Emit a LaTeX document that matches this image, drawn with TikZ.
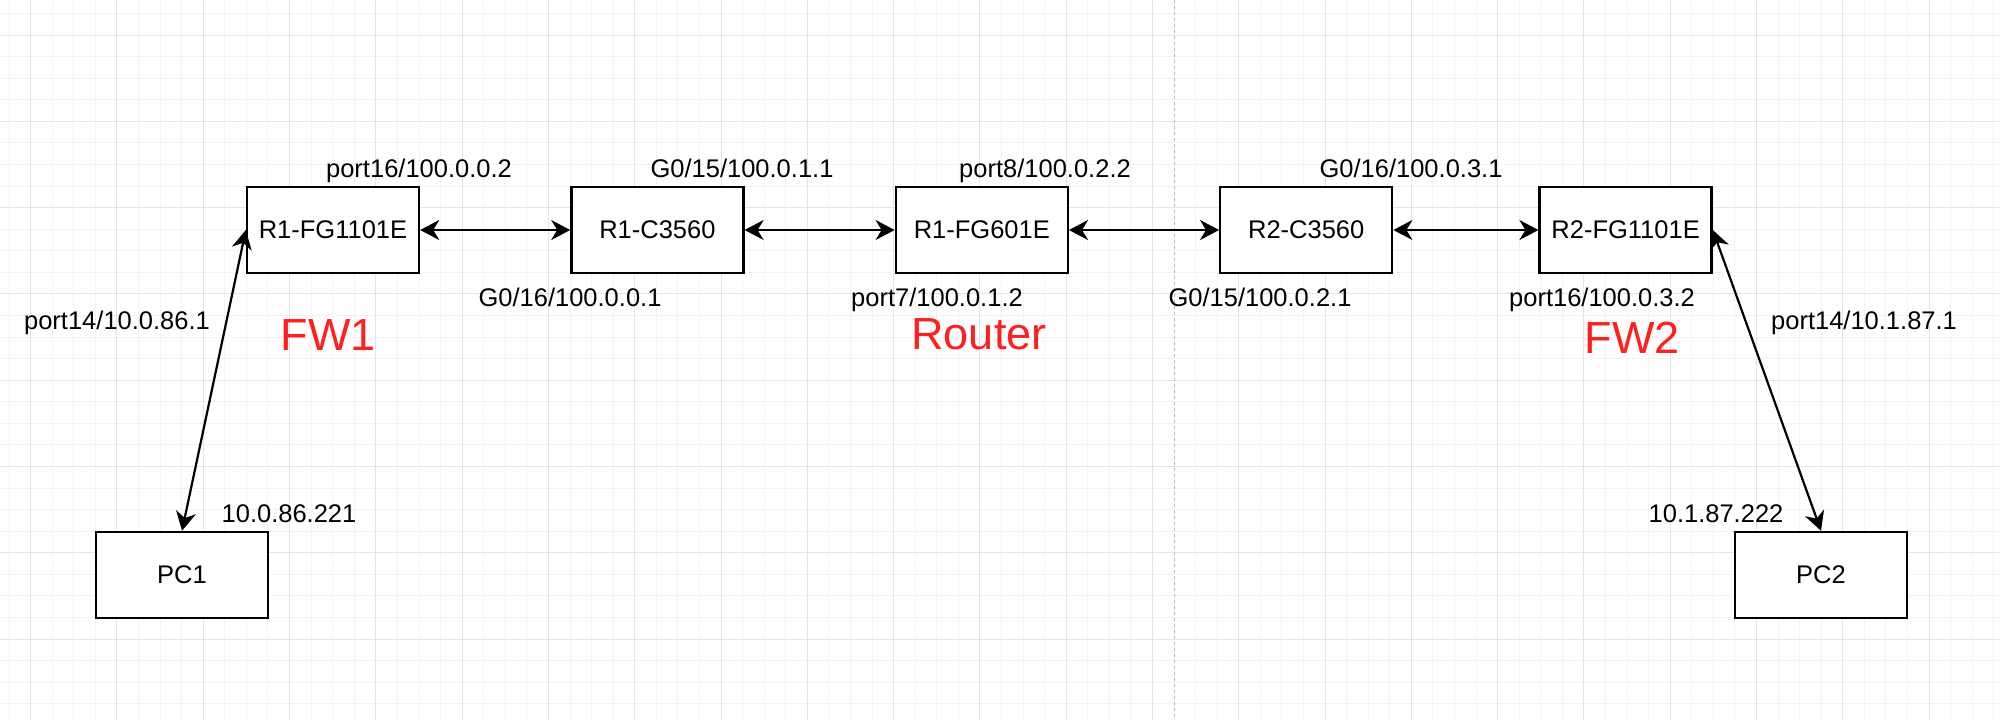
\documentclass[tikz,border=0pt]{standalone}
\usepackage{fontspec}
\setmainfont{Liberation Sans}
\usetikzlibrary{arrows.meta,positioning}
\definecolor{gridminor}{HTML}{F3F3F3}
\definecolor{gridmajor}{HTML}{E4E4E4}
\definecolor{pagebreak}{HTML}{BDBDBD}
\definecolor{fwred}{HTML}{FF1F1F}

\begin{document}
\begin{tikzpicture}[
  x=0.5pt, y=-0.5pt,
  >={Stealth[length=9.5pt,width=10pt,inset=3pt]},
  line/.style={<->,line width=1.1pt,draw=black},
  device/.style={draw=black,fill=white,line width=1.2pt,minimum width=86pt,
                 minimum height=43pt,inner sep=0pt,
                 font=\fontsize{12.75}{15}\selectfont},
  iface/.style={inner sep=0pt,anchor=base,font=\fontsize{12.75}{15}\selectfont},
  role/.style={inner sep=0pt,anchor=base,text=fwred,
               font=\fontsize{22.5}{26}\selectfont},
  gridfine/.style={draw=gridminor,line width=0.5pt},
  gridbold/.style={draw=gridmajor,line width=0.5pt}
]
\useasboundingbox (0,0) rectangle (2000,720);
\fill[white] (0,0) rectangle (2000,720);
% canvas grid
\foreach \i in {0,...,92}
  \draw[gridfine] ({9.13+21.572*\i},0) -- ++(0,720);
\foreach \j in {0,...,32}
  \draw[gridfine] (0,{13.43+21.572*\j}) -- ++(2000,0);
\foreach \i in {0,...,22}
  \draw[gridbold] ({30.7+86.29*\i},0) -- ++(0,720);
\foreach \j in {0,...,7}
  \draw[gridbold] (0,{35+86.29*\j}) -- ++(2000,0);
\draw[pagebreak,line width=0.5pt,dash pattern=on 1.5pt off 1.5pt]
  (1174,0) -- (1174,720);

% devices
\node[device] (fw1) at (333,230) {R1-FG1101E};
\node[device,right=75pt of fw1] (sw1) {R1-C3560};
\node[device,right=75pt of sw1] (router) {R1-FG601E};
\node[device,right=75pt of router] (sw2) {R2-C3560};
\node[device,right=72.5pt of sw2] (fw2) {R2-FG1101E};
\node[device] (pc1) at (182,575) {PC1};
\node[device] (pc2) at (1821,575) {PC2};

% interface addresses
\node[iface] (fw1east) at (419,177) {port16/100.0.0.2};
\node[iface] (sw1west) at (570,306) {G0/16/100.0.0.1};
\node[iface] (sw1east) at (742,177) {G0/15/100.0.1.1};
\node[iface] (routerwest) at (937,306) {port7/100.0.1.2};
\node[iface] (routereast) at (1045,177) {port8/100.0.2.2};
\node[iface] (sw2west) at (1260,306) {G0/15/100.0.2.1};
\node[iface] (sw2east) at (1411,177) {G0/16/100.0.3.1};
\node[iface] (fw2west) at (1602,306) {port16/100.0.3.2};
\node[iface] (fw1lan) at (117,329) {port14/10.0.86.1};
\node[iface] (fw2lan) at (1864,329) {port14/10.1.87.1};
\node[iface] (pc1ip) at (289,522) {10.0.86.221};
\node[iface] (pc2ip) at (1716,522) {10.1.87.222};

% roles
\node[role] (fw1role) at (328,350) {FW1};
\node[role] (routerrole) at (979,349) {Router};
\node[role] (fw2role) at (1632,353) {FW2};

\draw[line] (fw1) -- (sw1);
\draw[line] (sw1) -- (router);
\draw[line] (router) -- (sw2);
\draw[line] (sw2) -- (fw2);
\draw[line] (pc1.north) -- (fw1.west);
\draw[line] (pc2.north) -- (fw2.east);
\end{tikzpicture}
\end{document}
